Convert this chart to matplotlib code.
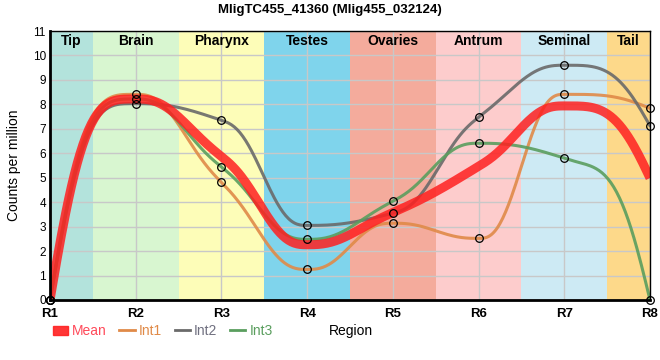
import numpy as np
import matplotlib
matplotlib.use("Agg")
import matplotlib.pyplot as plt
from matplotlib.patches import Patch
from matplotlib.lines import Line2D

plt.rcParams["font.family"] = ["Liberation Sans", "DejaVu Sans"]

regions = ["R1", "R2", "R3", "R4", "R5", "R6", "R7", "R8"]
int1 = [0.0, 8.41, 4.81, 1.25, 3.14, 2.52, 8.41, 7.84]
int2 = [0.0, 8.03, 7.35, 3.05, 3.55, 7.47, 9.60, 7.12]
int3 = [0.0, 8.22, 5.44, 2.48, 4.04, 6.41, 5.80, 0.0]
mean = list(np.mean([int1, int2, int3], axis=0))

tissues = ["Tip", "Brain", "Pharynx", "Testes", "Ovaries", "Antrum", "Seminal", "Tail"]
tissue_colors = ["#b3e3dc", "#d8f6d0", "#fdfdb8", "#7fd4ec",
                 "#f4ab9c", "#fdcccc", "#cdeaf4", "#fdd98a"]

C_MEAN = "#ff2020"
C_INT1 = "#e08a48"
C_INT2 = "#6a6a6a"
C_INT3 = "#5a9e5e"


def curve_slopes(x, y):
    # monotone slopes inside, steep ends like the original chart
    x = np.asarray(x, float)
    y = np.asarray(y, float)
    h = np.diff(x)
    d = np.diff(y) / h
    m = np.zeros_like(y)
    for k in range(1, len(y) - 1):
        if d[k - 1] * d[k] <= 0:
            m[k] = 0.0
        else:
            w1 = 2 * h[k] + h[k - 1]
            w2 = h[k] + 2 * h[k - 1]
            m[k] = (w1 + w2) / (w1 / d[k - 1] + w2 / d[k])
    m[0] = 2.5 * d[0]
    m[-1] = 2.5 * d[-1]
    return m


def smooth(x, y, n=60):
    # quintic hermite through the points
    x = np.asarray(x, float)
    y = np.asarray(y, float)
    m = curve_slopes(x, y)
    xs, ys = [], []
    for k in range(len(x) - 1):
        hk = x[k + 1] - x[k]
        t = np.linspace(0, 1, n, endpoint=(k == len(x) - 2))
        h0 = 1 - 10 * t**3 + 15 * t**4 - 6 * t**5
        h5 = 10 * t**3 - 15 * t**4 + 6 * t**5
        h1 = t - 6 * t**3 + 8 * t**4 - 3 * t**5
        h4 = -4 * t**3 + 7 * t**4 - 3 * t**5
        xs.append(x[k] + t * hk)
        ys.append(h0 * y[k] + h5 * y[k + 1] + hk * (h1 * m[k] + h4 * m[k + 1]))
    return np.concatenate(xs), np.concatenate(ys)


xpos = np.arange(len(regions))

fig = plt.figure(figsize=(6.6, 3.6), dpi=100)
ax = fig.add_axes([50 / 660, 60 / 360, 600 / 660, 269 / 360])

# tissue bands
for i, (name, col) in enumerate(zip(tissues, tissue_colors)):
    lo = max(i - 0.5, 0)
    hi = min(i + 0.5, len(regions) - 1)
    ax.axvspan(lo, hi, color=col, lw=0, zorder=0)
    ax.text((lo + hi) / 2, 10.6, name, ha="center", va="center",
            fontsize=10, fontweight="bold", zorder=5)

ax.set_xlim(0, len(regions) - 1)
ax.set_ylim(0, 11)
ax.set_yticks(range(12))
ax.set_xticks(xpos)
ax.set_xticklabels(regions, fontweight="bold", fontsize=9.5)
ax.tick_params(axis="y", labelsize=8.5, length=0, pad=3)
ax.tick_params(axis="x", length=0, pad=6)
ax.grid(True, color="#c8c8c8", lw=1, zorder=1)
ax.set_axisbelow(False)

for sp in ["top", "right"]:
    ax.spines[sp].set_linewidth(1)
for sp in ["left", "bottom"]:
    ax.spines[sp].set_linewidth(2)
for sp in ax.spines.values():
    sp.set_zorder(6)

for vals, col in [(int1, C_INT1), (int2, C_INT2), (int3, C_INT3)]:
    sx, sy = smooth(xpos, vals)
    ax.plot(sx, sy, color=col, lw=2.2, alpha=0.9, zorder=3,
            solid_capstyle="round")

sx, sy = smooth(xpos, mean)
ax.plot(sx, sy, color=C_MEAN, lw=6.5, alpha=0.85, zorder=4,
        solid_capstyle="butt")

for vals in [int1, int2, int3]:
    ax.plot(xpos, vals, ls="none", marker="o", ms=5.5, mfc="none",
            mec="black", mew=0.9, zorder=7, clip_on=False)

ax.set_ylabel("Counts per million", fontsize=10, labelpad=8)

fig.text(0.5, 0.972, "MligTC455_41360 (Mlig455_032124)", ha="center",
         va="center", fontsize=9.5, fontweight="bold")
fig.text(351 / 660, 1 - 331 / 360, "Region", ha="center", va="center",
         fontsize=10)

handles = [Patch(color=C_MEAN, alpha=0.9),
           Line2D([], [], color=C_INT1, lw=2),
           Line2D([], [], color=C_INT2, lw=2),
           Line2D([], [], color=C_INT3, lw=2)]
labels = ["Mean", "Int1", "Int2", "Int3"]
leg = fig.legend(handles, labels, ncol=4, frameon=False, fontsize=10,
                 loc="center left", bbox_to_anchor=(50 / 660, 1 - 331 / 360),
                 handlelength=1.1, handleheight=0.6, handletextpad=0.3,
                 columnspacing=0.9, borderpad=0.2, borderaxespad=0)
for txt, col in zip(leg.get_texts(), ["#ff4a5a", C_INT1, "#707080", C_INT3]):
    txt.set_color(col)

fig.savefig("out.png", dpi=100)
